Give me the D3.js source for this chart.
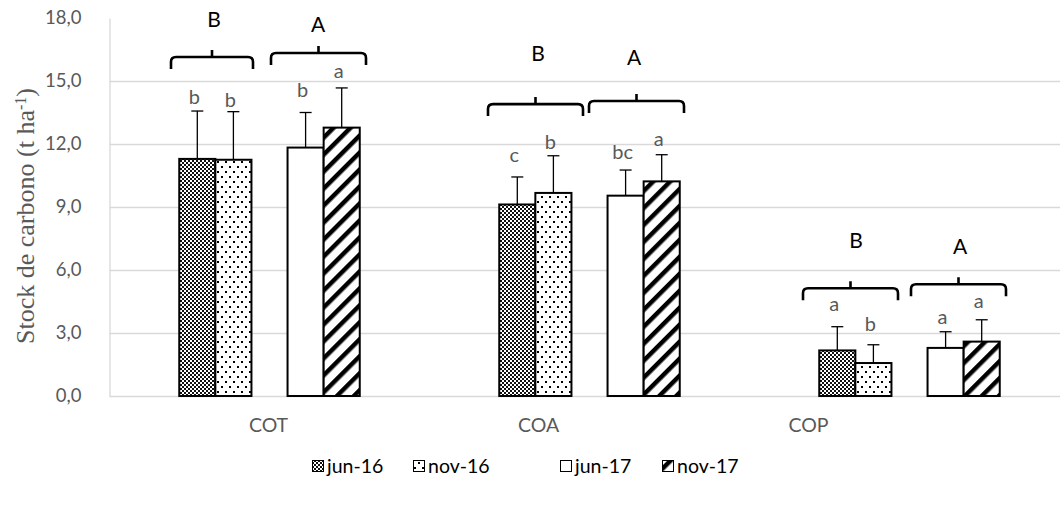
<!DOCTYPE html>
<html>
<head>
<meta charset="utf-8">
<script src="https://cdn.jsdelivr.net/npm/d3@7"></script>
<style>
  body { margin: 0; background: #fff; }
  svg { display: block; }
</style>
</head>
<body>
<svg id="chart" width="1060" height="506"></svg>
<script>
// ---- data ----
const categories = ["COT", "COA", "COP"];
const seriesNames = ["jun-16", "nov-16", "jun-17", "nov-17"];

const meanJun16 = [11.29, 9.12, 2.17];
const meanNov16 = [11.25, 9.67, 1.57];
const meanJun17 = [11.83, 9.54, 2.29];
const meanNov17 = [12.78, 10.22, 2.59];

const sdJun16 = [2.28, 1.31, 1.13];
const sdNov16 = [2.29, 1.77, 0.87];
const sdJun17 = [1.67, 1.22, 0.77];
const sdNov17 = [1.89, 1.27, 1.04];

const letterJun16 = ["b", "c", "a"];
const letterNov16 = ["b", "b", "b"];
const letterJun17 = ["b", "bc", "a"];
const letterNov17 = ["a", "a", "a"];

// letters comparing the two sampling years within each fraction
const yearLetters2016 = ["B", "B", "B"];
const yearLetters2017 = ["A", "A", "A"];

const yTicks = [0, 3, 6, 9, 12, 15, 18];

// ---- layout ----
const W = 1060, H = 506;
const plot = { left: 109.5, right: 1069.5, top: 18, bottom: 396 };
const groupInner = 180.5;              // width taken by the five bar slots in a category
const slots = ["jun-16", "nov-16", "gap", "jun-17", "nov-17"];
// vertical space between error cap and significance letter, per series/category
const letterGap = {
  "jun-16": [7, 15, 16],
  "nov-16": [5, 7, 14],
  "jun-17": [16, 11, 8],
  "nov-17": [10, 9, 12]
};
// braces grouping each year's pair of bars: x extents (px), line height (value), letter spot
const braceLayout = [
  { x0: 171, x1: 253, yv: 16.14, lx: 214, ly: 19 },
  { x0: 271, x1: 366, yv: 16.33, lx: 318, ly: 24 },
  { x0: 488, x1: 583, yv: 13.90, lx: 538, ly: 53 },
  { x0: 589, x1: 684, yv: 14.05, lx: 634, ly: 57 },
  { x0: 803, x1: 898, yv: 5.13,  lx: 856, ly: 240 },
  { x0: 911, x1: 1006, yv: 5.32, lx: 960, ly: 246 }
];
const legendX = [312, 413, 560, 662];
const legendY = 466;

const FONT = "Lato, 'Open Sans', 'Noto Sans', sans-serif";

// ---- assemble rows ----
const means = [meanJun16, meanNov16, meanJun17, meanNov17];
const sds = [sdJun16, sdNov16, sdJun17, sdNov17];
const letters = [letterJun16, letterNov16, letterJun17, letterNov17];
const rows = [];
categories.forEach((c, ci) => {
  seriesNames.forEach((s, si) => {
    rows.push({ cat: c, ci, series: s, si, mean: means[si][ci], sd: sds[si][ci], letter: letters[si][ci] });
  });
});

const svg = d3.select("#chart");

// ---- scales ----
const x0 = d3.scaleBand().domain(categories).range([plot.left, plot.right]).padding(0);
const x1 = d3.scaleBand().domain(slots)
  .range([(x0.bandwidth() - groupInner) / 2, (x0.bandwidth() + groupInner) / 2]).padding(0);
const y = d3.scaleLinear().domain([0, 18]).range([plot.bottom, plot.top]);
const labelScale = d3.scalePoint().domain(categories).range([268, 808]);

// ---- fill patterns ----
const defs = svg.append("defs");
const checker = defs.append("pattern").attr("id", "pat-jun16")
  .attr("patternUnits", "userSpaceOnUse").attr("width", 4).attr("height", 4);
checker.append("rect").attr("width", 4).attr("height", 4).attr("fill", "#fff");
checker.append("rect").attr("x", 0).attr("y", 0).attr("width", 2).attr("height", 2).attr("fill", "#111");
checker.append("rect").attr("x", 2).attr("y", 2).attr("width", 2).attr("height", 2).attr("fill", "#111");

const dots = defs.append("pattern").attr("id", "pat-nov16")
  .attr("patternUnits", "userSpaceOnUse").attr("width", 8).attr("height", 10);
dots.append("rect").attr("width", 8).attr("height", 10).attr("fill", "#fff");
dots.append("rect").attr("x", 1).attr("y", 1).attr("width", 2).attr("height", 2).attr("fill", "#000");
dots.append("rect").attr("x", 5).attr("y", 6).attr("width", 2).attr("height", 2).attr("fill", "#000");

const stripes = defs.append("pattern").attr("id", "pat-nov17")
  .attr("patternUnits", "userSpaceOnUse").attr("width", 12).attr("height", 12)
  .attr("patternTransform", "rotate(45)");
stripes.append("rect").attr("width", 12).attr("height", 12).attr("fill", "#fff");
stripes.append("rect").attr("x", 0).attr("width", 4.5).attr("height", 12).attr("fill", "#000");

const fillFor = {
  "jun-16": "url(#pat-jun16)",
  "nov-16": "url(#pat-nov16)",
  "jun-17": "#fff",
  "nov-17": "url(#pat-nov17)"
};

// ---- gridlines ----
svg.append("g")
  .selectAll("line")
  .data(yTicks.filter(t => t > 0 && t < 18))
  .join("line")
  .attr("x1", plot.left).attr("x2", W)
  .attr("y1", d => Math.round(y(d)) + 0.5).attr("y2", d => Math.round(y(d)) + 0.5)
  .attr("stroke", "#d9d9d9").attr("stroke-width", 1.3);

// ---- y axis ----
const fmt = d => d3.format(".1f")(d).replace(".", ",");
const yAxis = svg.append("g")
  .attr("transform", `translate(${plot.left},0)`)
  .call(d3.axisLeft(y).tickValues(yTicks).tickSize(0).tickSizeOuter(0).tickPadding(28).tickFormat(fmt));
yAxis.select(".domain").attr("stroke", "#d9d9d9").attr("stroke-width", 1.3);
yAxis.selectAll("text").attr("font-family", FONT).attr("font-size", 18.5).attr("fill", "#595959");

// baseline
svg.append("line")
  .attr("x1", plot.left).attr("x2", W)
  .attr("y1", y(0) + 0.5).attr("y2", y(0) + 0.5)
  .attr("stroke", "#d9d9d9").attr("stroke-width", 1.3);

// ---- category labels ----
const xAxis = svg.append("g")
  .attr("transform", `translate(0,${plot.bottom})`)
  .call(d3.axisBottom(labelScale).tickSize(0).tickPadding(22));
xAxis.select(".domain").remove();
xAxis.selectAll("text").attr("font-family", FONT).attr("font-size", 19.5).attr("fill", "#595959");

// ---- bars ----
const barX = d => x0(d.cat) + x1(d.series);
const bw = x1.bandwidth();
svg.append("g")
  .selectAll("rect")
  .data(rows)
  .join("rect")
  .attr("x", barX)
  .attr("y", d => y(d.mean))
  .attr("width", bw)
  .attr("height", d => y(0) - y(d.mean))
  .attr("fill", d => fillFor[d.series])
  .attr("stroke", "#000")
  .attr("stroke-width", 2);

// ---- error bars (upper only) ----
const eb = svg.append("g").attr("stroke", "#000").attr("stroke-width", 1.3);
eb.selectAll("line.stem")
  .data(rows).join("line").attr("class", "stem")
  .attr("x1", d => barX(d) + bw / 2).attr("x2", d => barX(d) + bw / 2)
  .attr("y1", d => y(d.mean)).attr("y2", d => y(d.mean + d.sd));
eb.selectAll("line.cap")
  .data(rows).join("line").attr("class", "cap")
  .attr("x1", d => barX(d) + bw / 2 - 6).attr("x2", d => barX(d) + bw / 2 + 6)
  .attr("y1", d => y(d.mean + d.sd)).attr("y2", d => y(d.mean + d.sd));

// ---- significance letters ----
svg.append("g")
  .selectAll("text")
  .data(rows)
  .join("text")
  .attr("x", d => barX(d) + bw / 2 - 3)
  .attr("y", d => y(d.mean + d.sd) - letterGap[d.series][d.ci])
  .attr("text-anchor", "middle")
  .attr("font-family", FONT).attr("font-size", 20).attr("fill", "#595959")
  .text(d => d.letter);

// ---- braces with year letters ----
const yearLetters = [];
categories.forEach((c, ci) => { yearLetters.push(yearLetters2016[ci], yearLetters2017[ci]); });

function bracePath(b) {
  const yl = y(b.yv), drop = 12, r = 5, tip = 7, mid = (b.x0 + b.x1) / 2;
  return `M${b.x0},${yl + drop} L${b.x0},${yl + r} Q${b.x0},${yl} ${b.x0 + r},${yl}` +
    ` L${b.x1 - r},${yl} Q${b.x1},${yl} ${b.x1},${yl + r} L${b.x1},${yl + drop}` +
    ` M${mid},${yl} L${mid},${yl - tip}`;
}
const bg = svg.append("g");
bg.selectAll("path")
  .data(braceLayout)
  .join("path")
  .attr("d", bracePath)
  .attr("fill", "none").attr("stroke", "#000").attr("stroke-width", 2.6);
bg.selectAll("text")
  .data(braceLayout)
  .join("text")
  .attr("x", d => d.lx).attr("y", d => d.ly)
  .attr("dy", "0.36em")
  .attr("text-anchor", "middle")
  .attr("font-family", FONT).attr("font-size", 21).attr("fill", "#000")
  .text((d, i) => yearLetters[i]);

// ---- y axis title ----
const title = svg.append("text")
  .attr("transform", `translate(25,216) rotate(-90)`)
  .attr("text-anchor", "middle")
  .attr("dy", "0.35em")
  .attr("font-family", "'Liberation Serif', 'Times New Roman', serif")
  .attr("font-size", 26)
  .attr("fill", "#595959");
title.append("tspan").text("Stock de carbono (t ha");
title.append("tspan").attr("baseline-shift", "super").attr("font-size", 16).text("-1");
title.append("tspan").text(")");

// ---- legend ----
const lg = svg.append("g")
  .selectAll("g")
  .data(seriesNames)
  .join("g")
  .attr("transform", (d, i) => `translate(${legendX[i]},${legendY})`);
lg.append("rect")
  .attr("x", 0.5).attr("y", -5.5).attr("width", 11).attr("height", 11)
  .attr("fill", d => fillFor[d]).attr("stroke", "#000").attr("stroke-width", 1);
lg.append("text")
  .attr("x", 15).attr("y", 0).attr("dy", "0.35em")
  .attr("font-family", FONT).attr("font-size", 19.5).attr("fill", "#000")
  .text(d => d);
</script>
</body>
</html>
